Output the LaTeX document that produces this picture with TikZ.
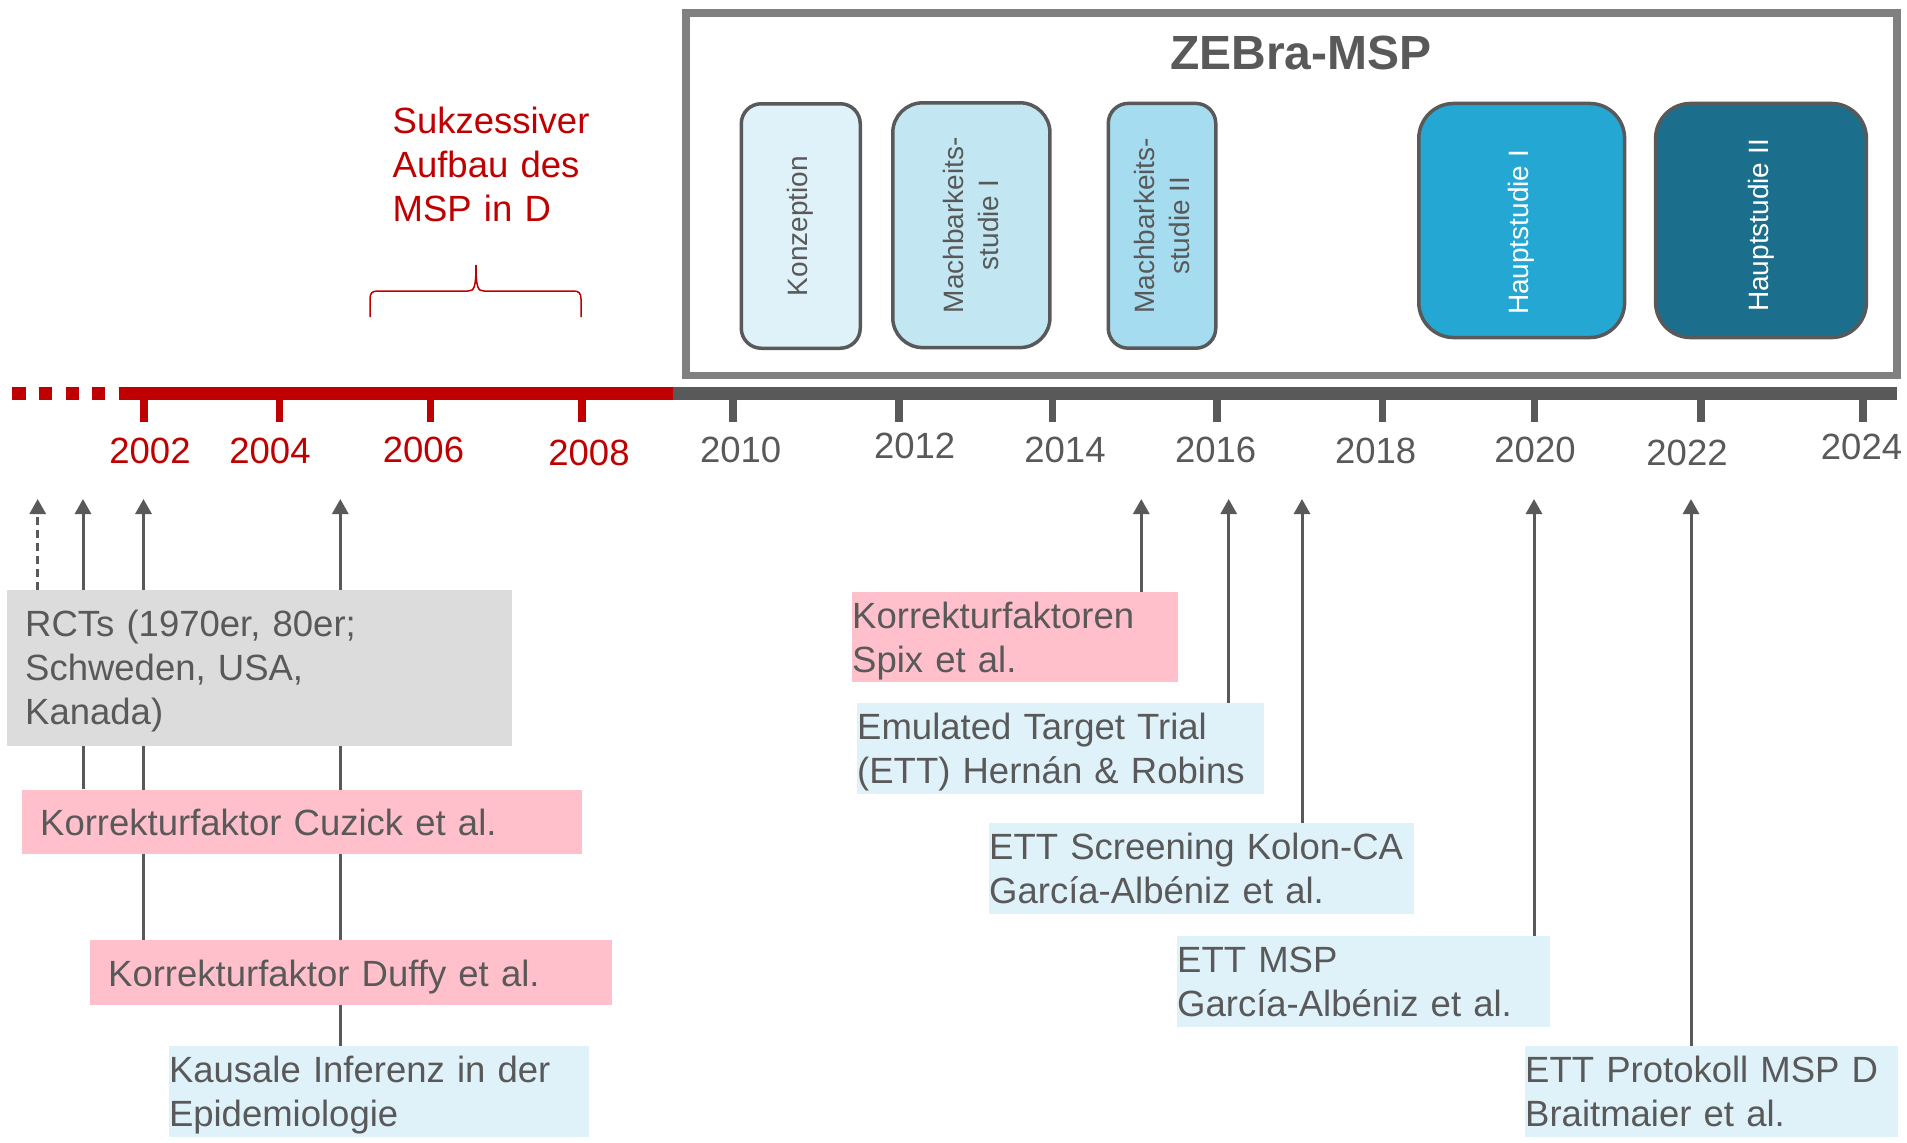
\documentclass[tikz,border=0pt]{standalone}
\usepackage{fontspec}
\setmainfont{Liberation Sans}
\usetikzlibrary{arrows.meta}
\pgfdeclarelayer{background}
\pgfsetlayers{background,main}

\definecolor{ink}{HTML}{595959}
\definecolor{msp}{HTML}{C00000}
\definecolor{framegray}{HTML}{808080}
\definecolor{pinkbox}{HTML}{FFC0CB}
\definecolor{greybox}{HTML}{DCDCDC}
\definecolor{bluebox}{HTML}{DFF1F9}
\definecolor{phaseA}{HTML}{DFF1F9}
\definecolor{phaseB}{HTML}{C2E7F3}
\definecolor{phaseC}{HTML}{A6DCEF}
\definecolor{phaseD}{HTML}{25A7D4}
\definecolor{phaseE}{HTML}{1B6F8C}

\newcommand\bodyfont{\fontsize{36.5}{44}\selectfont}
\newcommand\phasefont{\fontsize{28}{35}\selectfont}
\newcommand\titlefont{\fontsize{48}{56}\selectfont\bfseries}

\begin{document}
\begin{tikzpicture}[x=1pt,y=-1pt,
  note/.style={anchor=north west, inner ysep=0pt, align=left, font=\bodyfont, text=ink},
  padded/.style={inner xsep=18pt},
  flush/.style={inner xsep=0pt},
  oneline/.style={text height=46pt, text depth=18.5pt},
  twoline/.style={text height=36.5pt, text depth=54.2pt},
  threeline/.style={text height=46.7pt, text depth=108.7pt},
  yearlabel/.style={font=\bodyfont, inner sep=0pt},
  phase/.style={draw=ink, line width=3.5pt, rotate=90, align=center, font=\phasefont, inner sep=0pt},
  evidence/.style={draw=ink, line width=3pt, -{Triangle[width=16pt,length=15pt]}},
  yeartick/.style={line width=7.5pt},
]
\useasboundingbox (0,0) rectangle (1907,1143);

% ---------- ZEBra-MSP frame and study phases ----------
\node[draw=framegray, line width=7.7pt, minimum width=1211pt, minimum height=362.2pt, inner sep=0pt]
  (frame) at (1291.5,194.4) {};
\node[font=\titlefont, text=ink, inner sep=0pt] (title) at (1301,52.5) {ZEBra-MSP};

\node[phase, fill=phaseA, text=ink, rounded corners=20pt, minimum width=244.5pt, minimum height=119pt]
  (konz) at (800.75,226) {Konzeption};
\node[phase, fill=phaseB, text=ink, rounded corners=30pt, minimum width=244.8pt, minimum height=157.2pt]
  (machI) at (971.35,225.2) {Machbarkeits-\\studie I};
\node[phase, fill=phaseC, text=ink, rounded corners=20pt, minimum width=244.8pt, minimum height=107.5pt]
  (machII) at (1162,225.8) {Machbarkeits-\\studie II};
\node[phase, fill=phaseD, text=white, rounded corners=35pt, minimum width=234.1pt, minimum height=205.8pt]
  (hauptI) at (1521.7,220.5) {Hauptstudie I\hspace*{24pt}};
\node[phase, fill=phaseE, text=white, rounded corners=35pt, minimum width=234.1pt, minimum height=210.8pt]
  (hauptII) at (1761,220.5) {Hauptstudie II\hspace*{10pt}};

% ---------- build-up of the programme ----------
\node[anchor=base west, inner sep=0pt, align=left, text width=260pt, font=\bodyfont, text=msp]
  (aufbau) at (392.5,133.3) {Sukzessiver\\Aufbau des\\MSP in D};
\draw[msp, line width=1.5pt]
  (370,317) -- (370,299) .. controls (370,293) and (372,291) .. (378,291) -- (468,291)
  .. controls (474,291) and (476,288) .. (476,265);
\draw[msp, line width=1.5pt]
  (581,317) -- (581,299) .. controls (581,293) and (579,291) .. (573,291) -- (484,291)
  .. controls (478,291) and (476,288) .. (476,265);

% ---------- time axis ----------
\coordinate (axisstart) at (12.3,393.3);
\coordinate (dotsend) at (119,393.3);
\coordinate (redend) at (672.7,393.3);
\coordinate (axisend) at (1897,393.3);
\draw[msp, line width=13.3pt, dash pattern=on 13.3pt off 13.3pt] (axisstart) -- (dotsend);
\draw[msp, line width=13.3pt] (dotsend) -- (redend);
\draw[ink, line width=13.3pt] (redend) -- (axisend);

\foreach \x in {143.8,279.5,430.3,582.1}
  \draw[msp, yeartick] (\x,399) -- (\x,421.7);
\foreach \x in {733,899,1052.5,1216.8,1382.7,1534.5,1701,1863}
  \draw[ink, yeartick] (\x,399) -- (\x,421.7);

\node[yearlabel, text=msp] (y2002) at (150,450.5) {2002};
\node[yearlabel, text=msp] (y2004) at (270,450.5) {2004};
\node[yearlabel, text=msp] (y2006) at (423.5,449.5) {2006};
\node[yearlabel, text=msp] (y2008) at (589,453) {2008};
\node[yearlabel, text=ink] (y2010) at (740.6,449.7) {2010};
\node[yearlabel, text=ink] (y2012) at (914.6,446) {2012};
\node[yearlabel, text=ink] (y2014) at (1065,450) {2014};
\node[yearlabel, text=ink] (y2016) at (1215.6,450) {2016};
\node[yearlabel, text=ink] (y2018) at (1375.6,451) {2018};
\node[yearlabel, text=ink] (y2020) at (1535,450) {2020};
\node[yearlabel, text=ink] (y2022) at (1687,452.5) {2022};
\node[yearlabel, text=ink] (y2024) at (1861.5,447) {2024};

% ---------- publications and trials ----------
\node[note, padded, threeline, fill=greybox, text width=469pt] (rct) at (7,590)
  {RCTs (1970er, 80er;\\Schweden, USA,\\Kanada)};
\node[note, padded, oneline, fill=pinkbox, text width=524pt] (cuzick) at (22,789.3)
  {Korrekturfaktor Cuzick et al.};
\node[note, padded, oneline, fill=pinkbox, text width=486pt] (duffy) at (90,940)
  {Korrekturfaktor Duffy et al.};
\node[note, flush, twoline, fill=bluebox, text width=420pt] (kausal) at (168.8,1046)
  {Kausale Inferenz in der\\Epidemiologie};

\node[note, flush, twoline, fill=pinkbox, text width=326pt] (spix) at (852,591.5)
  {Korrekturfaktoren\\Spix et al.};
\node[note, flush, twoline, fill=bluebox, text width=407pt] (ett) at (857,703)
  {Emulated Target Trial\\(ETT) Hernán \& Robins};
\node[note, flush, twoline, fill=bluebox, text width=425pt] (kolon) at (989,823)
  {ETT Screening Kolon-CA\\García-Albéniz et al.};
\node[note, flush, twoline, fill=bluebox, text width=373pt] (ettmsp) at (1177,936)
  {ETT MSP\\García-Albéniz et al.};
\node[note, flush, twoline, fill=bluebox, text width=373pt] (protokoll) at (1525,1046)
  {ETT Protokoll MSP D\\Braitmaier et al.};

% arrow tips just below the year labels
\coordinate (tRct) at (37.7,499);
\coordinate (tCuzick) at (83,499);
\coordinate (tDuffy) at (143.5,499);
\coordinate (tKausal) at (340.3,499);
\coordinate (tSpix) at (1141.3,499);
\coordinate (tEtt) at (1228.7,499);
\coordinate (tKolon) at (1302,499);
\coordinate (tEttmsp) at (1534,499);
\coordinate (tProtokoll) at (1691,499);

\begin{pgfonlayer}{background}
  \draw[evidence, dash pattern=on 8pt off 5pt] (rct.north -| tRct) -- (tRct);
  \draw[evidence] (cuzick.north -| tCuzick) -- (tCuzick);
  \draw[evidence] (duffy.north -| tDuffy) -- (tDuffy);
  \draw[evidence] (kausal.north -| tKausal) -- (tKausal);
  \draw[evidence] (spix.north -| tSpix) -- (tSpix);
  \draw[evidence] (ett.north -| tEtt) -- (tEtt);
  \draw[evidence] (kolon.north -| tKolon) -- (tKolon);
  \draw[evidence] (ettmsp.north -| tEttmsp) -- (tEttmsp);
  \draw[evidence] (protokoll.north -| tProtokoll) -- (tProtokoll);
\end{pgfonlayer}
\end{tikzpicture}
\end{document}
